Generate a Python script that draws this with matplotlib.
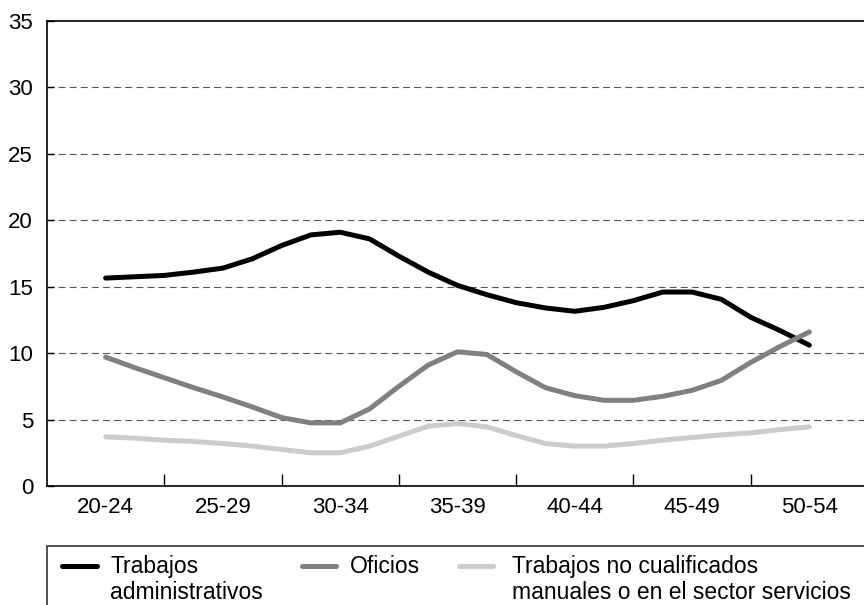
import matplotlib
matplotlib.use("Agg")
import matplotlib.pyplot as plt
from matplotlib.patches import Rectangle
from matplotlib.lines import Line2D

plt.rcParams["font.family"] = ["Liberation Sans", "DejaVu Sans"]
plt.rcParams["lines.scale_dashes"] = False

categories = ["20-24", "25-29", "30-34", "35-39", "40-44", "45-49", "50-54"]

# positions of the line vertices, in category units (0 = 20-24 ... 6 = 50-54)
x_pts = [0, 0.25, 0.5, 0.75, 1, 1.25, 1.5, 1.75, 2, 2.25, 2.5, 2.75, 3,
         3.25, 3.5, 3.75, 4, 4.25, 4.5, 4.75, 5, 5.25, 5.5, 5.75, 6]

administrativos = [15.65, 15.75, 15.85, 16.1, 16.4, 17.1, 18.1, 18.9, 19.1,
                   18.6, 17.3, 16.1, 15.1, 14.4, 13.8, 13.4, 13.15, 13.45,
                   13.95, 14.6, 14.6, 14.05, 12.7, 11.7, 10.6]
oficios = [9.7, 8.9, 8.15, 7.4, 6.7, 5.95, 5.15, 4.75, 4.75, 5.8, 7.5, 9.1,
           10.1, 9.9, 8.6, 7.4, 6.8, 6.45, 6.45, 6.75, 7.2, 7.95, 9.3, 10.5,
           11.6]
no_cualificados = [3.7, 3.6, 3.45, 3.35, 3.2, 3.0, 2.75, 2.5, 2.5, 3.0, 3.75,
                   4.5, 4.7, 4.45, 3.8, 3.2, 3.0, 3.0, 3.2, 3.45, 3.65, 3.85,
                   4.0, 4.25, 4.45]

labels = ["Trabajos\nadministrativos", "Oficios",
          "Trabajos no cualificados\nmanuales o en el sector servicios"]
colors = ["#000000", "#808080", "#cccccc"]

W, H = 864, 605
fig = plt.figure(figsize=(W / 100, H / 100), dpi=100)
ax = fig.add_axes([47 / W, 119 / H, 821 / W, 465 / H])

for y, c in zip([administrativos, oficios, no_cualificados], colors):
    ax.plot(x_pts, y, color=c, lw=3.6, solid_capstyle="round",
            solid_joinstyle="round", zorder=3)

ax.set_xlim(-0.5, 6.5)
ax.set_ylim(0, 35)
ax.set_yticks(range(0, 36, 5))
ax.set_xticks(range(len(categories)))
ax.set_xticklabels(categories)
ax.set_xticks([0.5, 1.5, 2.5, 3.5, 4.5, 5.5], minor=True)

ax.tick_params(axis="x", which="major", length=0, pad=8, labelsize=16)
ax.tick_params(axis="x", which="minor", direction="in", length=8.5, width=1)
ax.tick_params(axis="y", direction="in", length=5, width=1, pad=10,
               labelsize=16)

for g in [5, 10, 15, 20, 25, 30]:
    ax.axhline(g, color="#555555", lw=0.8, ls=(0, (5, 3)), zorder=1)

for s in ["left", "bottom", "top"]:
    ax.spines[s].set_linewidth(1.2)
ax.spines["right"].set_visible(False)

# legend box, running off the right and bottom edges
fig.patches.append(Rectangle((47 / W, -0.05), 1.0, (H - 546) / H + 0.05,
                             transform=fig.transFigure, fill=False,
                             edgecolor="#333333", lw=1.2))

# legend entries: handle start/end and text start, in pixels
handle_x = [(62, 97), (302, 336), (459, 493)]
text_x = [110, 350, 512]
for (x0, x1), tx, c, lab in zip(handle_x, text_x, colors, labels):
    fig.lines.append(Line2D([x0 / W, x1 / W], [(H - 566) / H] * 2,
                            transform=fig.transFigure, color=c, lw=3.6,
                            solid_capstyle="round"))
    fig.text(tx / W, (H - 555) / H, lab, fontsize=16.5, va="top",
             ha="left", linespacing=1.15)

fig.savefig("out.png", dpi=100)
